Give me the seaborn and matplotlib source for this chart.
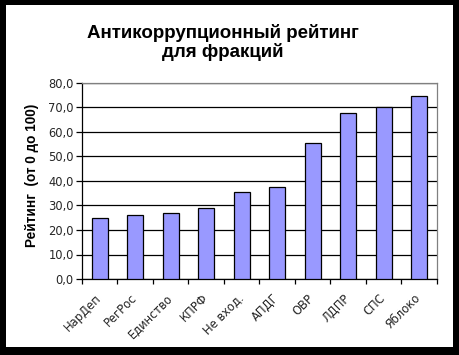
import matplotlib
matplotlib.use("Agg")
import matplotlib.pyplot as plt
import matplotlib.transforms as mtransforms
import seaborn as sns
import pandas as pd
from matplotlib.patches import Rectangle

categories = ["НарДеп", "РегРос", "Единство", "КПРФ", "Не вход.", "АПДГ", "ОВР", "ЛДПР", "СПС", "Яблоко"]
values = [24.8, 26.0, 26.8, 28.9, 35.4, 37.5, 55.4, 67.7, 70.2, 74.8]
yticks = [0, 10, 20, 30, 40, 50, 60, 70, 80]
title = "Антикоррупционный рейтинг\nдля фракций"
ylabel = "Рейтинг  (от 0 до 100)"

sns.set_theme(style="white")
plt.rcParams['font.family'] = ['Liberation Sans', 'DejaVu Sans']

df = pd.DataFrame({"cat": categories, "val": values})

W, H = 460, 355
fig = plt.figure(figsize=(W / 100, H / 100), dpi=100)
fig.patch.set_facecolor("black")
# white inner area
bg = Rectangle((6 / W, 1 - 347 / H), (453 - 6) / W, (347 - 5) / H,
               transform=fig.transFigure, facecolor="white",
               edgecolor="none", zorder=-10)
fig.patches.append(bg)

ax = fig.add_axes([82 / W, 1 - 279 / H, (437 - 82) / W, (279 - 83) / H], zorder=5)
ax.set_facecolor("white")
sns.barplot(data=df, x="cat", y="val", ax=ax, color="#9999FF", width=0.44,
            edgecolor="black", linewidth=0.9, saturation=1, zorder=3)

tickfont = dict(family="DejaVu Sans", size=8.3)

ax.set_ylim(0, 80)
ax.set_xlim(-0.5, len(categories) - 0.5)
ax.set_yticks(yticks)
ax.set_yticklabels([f"{v:.1f}".replace(".", ",") for v in yticks], fontdict=tickfont)
ax.yaxis.grid(True, color="black", linewidth=0.9, zorder=0)
ax.set_axisbelow(True)

ax.set_xticks([i for i in range(len(categories))])
ax.set_xticklabels(categories, rotation=45, ha="right", va="top",
                   rotation_mode="anchor", fontdict=tickfont)
ax.tick_params(axis="x", length=0, pad=9)
offset = mtransforms.ScaledTranslation(-5 / 100, 0, fig.dpi_scale_trans)
for lab in ax.get_xticklabels():
    lab.set_transform(lab.get_transform() + offset)
# boundary ticks
ax.set_xticks([i - 0.5 for i in range(len(categories) + 1)], minor=True)
ax.tick_params(axis="x", which="minor", length=3.5, width=0.9, color="black", direction="out", bottom=True)
ax.tick_params(axis="y", length=4, width=0.9, color="black", direction="out", left=True, pad=2)

for s in ["top", "right"]:
    ax.spines[s].set_color("#808080")
    ax.spines[s].set_linewidth(0.9)
for s in ["left", "bottom"]:
    ax.spines[s].set_color("black")
    ax.spines[s].set_linewidth(0.9)

ax.set_xlabel("")
ax.set_ylabel("")
fig.text(32 / W, 1 - 175 / H, ylabel, rotation=90, ha="center", va="center",
         fontsize=9.8, fontweight="bold", color="black")
fig.text(223 / W, 1 - 24 / H, title, ha="center", va="top", fontsize=13.5,
         fontweight="bold", color="black", linespacing=1.05)

fig.savefig("out.png", dpi=100, facecolor=fig.get_facecolor())
